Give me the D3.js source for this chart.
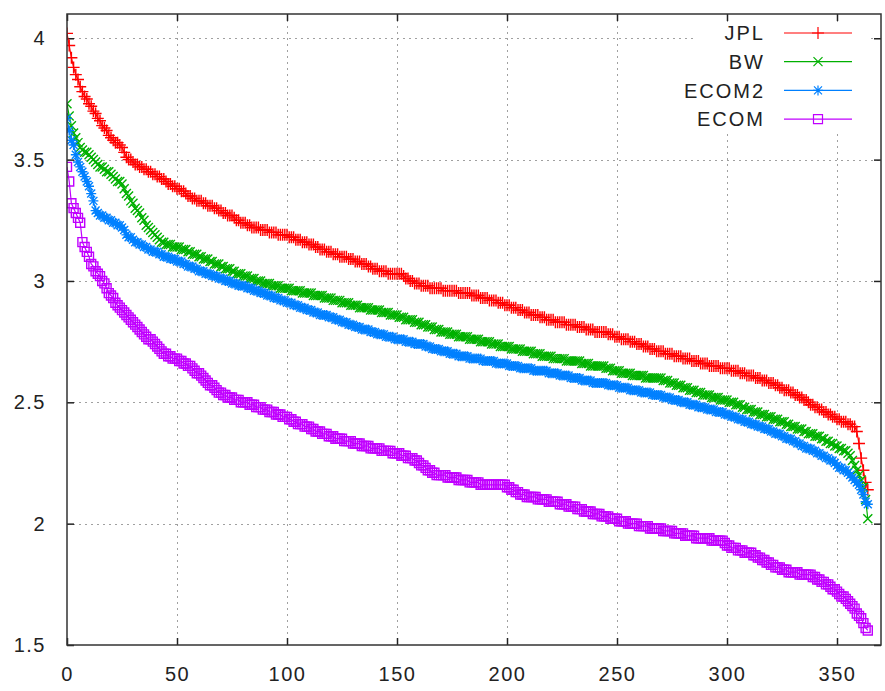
<!DOCTYPE html>
<html>
<head>
<meta charset="utf-8">
<script src="https://cdn.jsdelivr.net/npm/d3@7"></script>
<style>
  body { margin: 0; background: #fff; }
  text { font-family: "Liberation Sans", Arial, sans-serif; fill: #222; }
</style>
</head>
<body>
<svg id="chart" width="885" height="691"></svg>
<script>
// Tick values
const xTicks = [0, 50, 100, 150, 200, 250, 300, 350];
const yTicks = [1.5, 2, 2.5, 3, 3.5, 4];

// Series names, in drawing order
const seriesNames = ["JPL", "BW", "ECOM2", "ECOM"];

// Sorted daily values (365 per series)
const jpl = [
4.02,3.97,3.92,3.88,3.85,3.83,3.80,3.78,3.76,3.75,
3.73,3.72,3.70,3.69,3.67,3.66,3.64,3.63,3.62,3.60,
3.59,3.58,3.57,3.57,3.56,3.55,3.53,3.51,3.50,3.50,
3.49,3.48,3.48,3.47,3.47,3.46,3.46,3.45,3.45,3.44,
3.44,3.43,3.43,3.42,3.42,3.41,3.40,3.40,3.39,3.39,
3.38,3.38,3.37,3.37,3.36,3.35,3.35,3.34,3.34,3.33,
3.33,3.33,3.32,3.32,3.31,3.31,3.31,3.30,3.30,3.29,
3.29,3.28,3.28,3.27,3.27,3.27,3.26,3.25,3.25,3.24,
3.24,3.24,3.23,3.23,3.22,3.22,3.22,3.22,3.21,3.21,
3.21,3.21,3.20,3.20,3.20,3.20,3.19,3.19,3.19,3.19,
3.19,3.18,3.18,3.18,3.17,3.17,3.17,3.16,3.16,3.16,
3.15,3.15,3.15,3.14,3.14,3.13,3.13,3.13,3.12,3.12,
3.12,3.11,3.11,3.11,3.10,3.10,3.10,3.10,3.09,3.09,
3.09,3.08,3.08,3.08,3.07,3.07,3.07,3.06,3.06,3.05,
3.05,3.05,3.04,3.04,3.04,3.04,3.03,3.03,3.03,3.03,
3.03,3.03,3.03,3.02,3.01,3.01,3.00,3.00,2.99,2.99,
2.99,2.98,2.98,2.98,2.98,2.97,2.97,2.97,2.97,2.97,
2.97,2.96,2.96,2.96,2.96,2.96,2.96,2.96,2.95,2.95,
2.95,2.95,2.95,2.95,2.94,2.94,2.94,2.94,2.93,2.93,
2.93,2.93,2.92,2.92,2.92,2.92,2.91,2.91,2.91,2.90,
2.90,2.90,2.89,2.89,2.89,2.88,2.88,2.88,2.87,2.87,
2.87,2.86,2.86,2.86,2.86,2.85,2.85,2.85,2.84,2.84,
2.84,2.84,2.83,2.83,2.83,2.83,2.83,2.82,2.82,2.82,
2.82,2.82,2.81,2.81,2.81,2.81,2.80,2.80,2.80,2.80,
2.79,2.79,2.79,2.79,2.79,2.79,2.78,2.78,2.78,2.77,
2.77,2.77,2.76,2.76,2.76,2.76,2.75,2.75,2.75,2.74,
2.74,2.74,2.73,2.73,2.73,2.72,2.72,2.72,2.71,2.71,
2.71,2.71,2.70,2.70,2.70,2.70,2.69,2.69,2.69,2.69,
2.68,2.68,2.68,2.68,2.67,2.67,2.67,2.67,2.66,2.66,
2.66,2.66,2.65,2.65,2.65,2.65,2.65,2.64,2.64,2.64,
2.64,2.64,2.63,2.63,2.63,2.63,2.62,2.62,2.62,2.61,
2.61,2.61,2.61,2.60,2.60,2.60,2.59,2.59,2.59,2.58,
2.58,2.58,2.57,2.57,2.56,2.56,2.55,2.55,2.55,2.54,
2.54,2.53,2.53,2.52,2.52,2.51,2.51,2.50,2.49,2.49,
2.48,2.48,2.47,2.47,2.46,2.46,2.45,2.45,2.44,2.44,
2.43,2.43,2.42,2.42,2.42,2.41,2.41,2.40,2.40,2.38,
2.33,2.27,2.22,2.17,2.14
];

const bw = [
3.73,3.68,3.64,3.61,3.59,3.57,3.55,3.54,3.53,3.53,
3.52,3.51,3.50,3.49,3.48,3.47,3.47,3.46,3.45,3.45,
3.44,3.43,3.42,3.41,3.41,3.40,3.38,3.36,3.35,3.33,
3.32,3.30,3.29,3.28,3.26,3.25,3.23,3.22,3.21,3.20,
3.19,3.18,3.17,3.16,3.16,3.15,3.15,3.15,3.14,3.14,
3.14,3.14,3.13,3.13,3.13,3.12,3.12,3.11,3.11,3.11,
3.10,3.10,3.09,3.09,3.09,3.08,3.08,3.07,3.07,3.07,
3.06,3.06,3.05,3.05,3.05,3.04,3.04,3.03,3.03,3.03,
3.02,3.02,3.02,3.01,3.01,3.01,3.00,3.00,3.00,2.99,
2.99,2.99,2.99,2.98,2.98,2.98,2.98,2.97,2.97,2.97,
2.97,2.97,2.96,2.96,2.96,2.96,2.96,2.95,2.95,2.95,
2.95,2.95,2.94,2.94,2.94,2.94,2.94,2.93,2.93,2.93,
2.93,2.92,2.92,2.92,2.92,2.91,2.91,2.91,2.91,2.90,
2.90,2.90,2.90,2.89,2.89,2.89,2.89,2.89,2.88,2.88,
2.88,2.88,2.88,2.87,2.87,2.87,2.87,2.86,2.86,2.86,
2.86,2.85,2.85,2.85,2.84,2.84,2.84,2.84,2.83,2.83,
2.83,2.82,2.82,2.82,2.81,2.81,2.81,2.80,2.80,2.80,
2.79,2.79,2.79,2.79,2.78,2.78,2.78,2.78,2.77,2.77,
2.77,2.77,2.77,2.76,2.76,2.76,2.76,2.76,2.75,2.75,
2.75,2.75,2.75,2.74,2.74,2.74,2.74,2.73,2.73,2.73,
2.73,2.73,2.72,2.72,2.72,2.72,2.72,2.71,2.71,2.71,
2.71,2.71,2.70,2.70,2.70,2.70,2.69,2.69,2.69,2.69,
2.69,2.68,2.68,2.68,2.68,2.68,2.68,2.67,2.67,2.67,
2.67,2.67,2.67,2.67,2.66,2.66,2.66,2.66,2.65,2.65,
2.65,2.65,2.65,2.65,2.65,2.64,2.64,2.64,2.63,2.63,
2.63,2.63,2.62,2.62,2.62,2.62,2.62,2.61,2.61,2.61,
2.61,2.61,2.61,2.60,2.60,2.60,2.60,2.60,2.60,2.60,
2.60,2.59,2.59,2.59,2.58,2.58,2.58,2.57,2.57,2.57,
2.56,2.56,2.56,2.55,2.55,2.55,2.54,2.54,2.54,2.53,
2.53,2.53,2.53,2.52,2.52,2.52,2.52,2.51,2.51,2.51,
2.51,2.50,2.50,2.50,2.49,2.49,2.49,2.48,2.48,2.47,
2.47,2.47,2.46,2.46,2.46,2.45,2.45,2.45,2.44,2.44,
2.44,2.43,2.43,2.43,2.42,2.42,2.42,2.41,2.41,2.40,
2.40,2.40,2.39,2.39,2.39,2.38,2.38,2.37,2.37,2.37,
2.36,2.36,2.36,2.35,2.35,2.34,2.34,2.33,2.33,2.32,
2.32,2.31,2.31,2.30,2.30,2.29,2.28,2.26,2.24,2.22,
2.20,2.18,2.15,2.10,2.02
];

const ecom2 = [
3.67,3.62,3.58,3.56,3.52,3.49,3.47,3.45,3.43,3.41,
3.39,3.36,3.33,3.29,3.28,3.27,3.27,3.26,3.26,3.25,
3.25,3.24,3.24,3.23,3.23,3.22,3.21,3.19,3.18,3.18,
3.17,3.16,3.16,3.15,3.15,3.14,3.14,3.13,3.13,3.12,
3.12,3.12,3.11,3.11,3.10,3.10,3.10,3.09,3.09,3.09,
3.08,3.08,3.08,3.07,3.07,3.06,3.06,3.06,3.05,3.05,
3.04,3.04,3.04,3.03,3.03,3.03,3.02,3.02,3.02,3.01,
3.01,3.01,3.00,3.00,3.00,2.99,2.99,2.99,2.98,2.98,
2.98,2.98,2.97,2.97,2.97,2.96,2.96,2.96,2.95,2.95,
2.95,2.94,2.94,2.94,2.93,2.93,2.93,2.92,2.92,2.92,
2.91,2.91,2.91,2.90,2.90,2.90,2.89,2.89,2.89,2.88,
2.88,2.88,2.87,2.87,2.87,2.86,2.86,2.86,2.86,2.85,
2.85,2.85,2.84,2.84,2.84,2.83,2.83,2.83,2.82,2.82,
2.82,2.81,2.81,2.81,2.80,2.80,2.80,2.80,2.79,2.79,
2.79,2.78,2.78,2.78,2.78,2.77,2.77,2.77,2.77,2.76,
2.76,2.76,2.76,2.76,2.75,2.75,2.75,2.75,2.74,2.74,
2.74,2.74,2.74,2.73,2.73,2.73,2.72,2.72,2.72,2.72,
2.71,2.71,2.71,2.71,2.70,2.70,2.70,2.70,2.69,2.69,
2.69,2.69,2.69,2.68,2.68,2.68,2.68,2.68,2.68,2.67,
2.67,2.67,2.67,2.67,2.67,2.66,2.66,2.66,2.66,2.66,
2.66,2.65,2.65,2.65,2.65,2.65,2.64,2.64,2.64,2.64,
2.64,2.64,2.63,2.63,2.63,2.63,2.63,2.63,2.63,2.62,
2.62,2.62,2.62,2.62,2.61,2.61,2.61,2.61,2.61,2.60,
2.60,2.60,2.60,2.60,2.59,2.59,2.59,2.59,2.59,2.58,
2.58,2.58,2.58,2.58,2.58,2.58,2.57,2.57,2.57,2.57,
2.57,2.56,2.56,2.56,2.56,2.56,2.55,2.55,2.55,2.55,
2.55,2.54,2.54,2.54,2.54,2.54,2.53,2.53,2.53,2.53,
2.53,2.52,2.52,2.52,2.52,2.51,2.51,2.51,2.51,2.50,
2.50,2.50,2.50,2.49,2.49,2.49,2.49,2.48,2.48,2.48,
2.48,2.47,2.47,2.47,2.47,2.46,2.46,2.46,2.46,2.45,
2.45,2.45,2.44,2.44,2.44,2.43,2.43,2.43,2.42,2.42,
2.42,2.41,2.41,2.41,2.40,2.40,2.40,2.39,2.39,2.39,
2.38,2.38,2.37,2.37,2.37,2.36,2.36,2.35,2.35,2.35,
2.34,2.34,2.33,2.33,2.32,2.32,2.31,2.31,2.31,2.30,
2.30,2.29,2.29,2.28,2.28,2.27,2.27,2.26,2.26,2.25,
2.24,2.23,2.23,2.22,2.22,2.21,2.20,2.19,2.18,2.17,
2.16,2.14,2.12,2.09,2.08
];

const ecom = [
3.47,3.41,3.32,3.30,3.28,3.26,3.24,3.16,3.14,3.12,
3.10,3.07,3.06,3.04,3.03,3.02,3.00,2.99,2.97,2.95,
2.94,2.93,2.91,2.90,2.89,2.88,2.87,2.86,2.85,2.84,
2.83,2.82,2.81,2.80,2.79,2.78,2.77,2.76,2.76,2.75,
2.74,2.73,2.72,2.71,2.70,2.70,2.69,2.69,2.68,2.68,
2.68,2.67,2.67,2.66,2.66,2.65,2.65,2.64,2.63,2.62,
2.62,2.61,2.60,2.59,2.58,2.57,2.57,2.56,2.55,2.54,
2.54,2.53,2.53,2.52,2.52,2.52,2.51,2.51,2.51,2.50,
2.50,2.50,2.50,2.49,2.49,2.49,2.48,2.48,2.48,2.47,
2.47,2.47,2.46,2.46,2.46,2.45,2.45,2.45,2.44,2.44,
2.44,2.43,2.43,2.42,2.42,2.41,2.41,2.41,2.40,2.40,
2.40,2.39,2.39,2.38,2.38,2.38,2.37,2.37,2.37,2.36,
2.36,2.36,2.35,2.35,2.35,2.35,2.34,2.34,2.34,2.34,
2.33,2.33,2.33,2.33,2.32,2.32,2.32,2.32,2.31,2.31,
2.31,2.31,2.31,2.30,2.30,2.30,2.30,2.30,2.29,2.29,
2.29,2.29,2.28,2.28,2.28,2.27,2.27,2.27,2.26,2.26,
2.25,2.24,2.24,2.23,2.22,2.22,2.21,2.21,2.20,2.20,
2.20,2.20,2.20,2.19,2.19,2.19,2.19,2.19,2.18,2.18,
2.18,2.18,2.18,2.17,2.17,2.17,2.17,2.17,2.16,2.16,
2.16,2.16,2.16,2.16,2.16,2.16,2.16,2.16,2.16,2.16,
2.15,2.15,2.14,2.14,2.13,2.13,2.12,2.12,2.12,2.11,
2.11,2.11,2.11,2.11,2.10,2.10,2.10,2.10,2.10,2.09,
2.09,2.09,2.09,2.09,2.08,2.08,2.08,2.08,2.07,2.07,
2.07,2.07,2.06,2.06,2.06,2.05,2.05,2.05,2.05,2.04,
2.04,2.04,2.04,2.03,2.03,2.03,2.03,2.02,2.02,2.02,
2.02,2.01,2.01,2.01,2.01,2.00,2.00,2.00,2.00,2.00,
1.99,1.99,1.99,1.99,1.99,1.98,1.98,1.98,1.98,1.98,
1.98,1.97,1.97,1.97,1.97,1.97,1.96,1.96,1.96,1.96,
1.96,1.95,1.95,1.95,1.95,1.95,1.94,1.94,1.94,1.94,
1.94,1.94,1.94,1.93,1.93,1.93,1.93,1.93,1.93,1.92,
1.91,1.91,1.90,1.90,1.90,1.89,1.89,1.89,1.88,1.88,
1.88,1.88,1.87,1.87,1.86,1.86,1.85,1.85,1.84,1.84,
1.83,1.83,1.82,1.82,1.82,1.81,1.81,1.81,1.80,1.80,
1.80,1.80,1.80,1.79,1.79,1.79,1.79,1.79,1.79,1.78,
1.78,1.77,1.77,1.76,1.76,1.75,1.75,1.74,1.73,1.73,
1.72,1.71,1.70,1.70,1.69,1.68,1.67,1.66,1.65,1.63,
1.62,1.61,1.59,1.57,1.56
];

const seriesValues = [jpl, bw, ecom2, ecom];
const seriesColors = ["#ff0000", "#00b000", "#0080ff", "#c000ff"];
const seriesSymbols = ["plus", "cross", "star", "square"];

// Layout
const plot = { left: 67, right: 881, top: 14, bottom: 645 };

const svg = d3.select("#chart");

const x = d3.scaleLinear().domain([0, 370]).range([plot.left, plot.right]);
const y = d3.scaleLinear().domain([1.5, 4.1]).range([plot.bottom, plot.top]);

// Point-symbol path strings (gnuplot style point types)
function symbolPath(kind) {
  if (kind === "plus") { const s = 6; return `M${-s},0H${s}M0,${-s}V${s}`; }
  if (kind === "cross") { const s = 4.5; return `M${-s},${-s}L${s},${s}M${-s},${s}L${s},${-s}`; }
  if (kind === "star") { const s = 5, d = 4; return `M${-s},0H${s}M0,${-s}V${s}M${-d},${-d}L${d},${d}M${-d},${d}L${d},${-d}`; }
  const h = 4.5; return `M${-h},${-h}H${h}V${h}H${-h}Z`;
}

// Grid
const grid = svg.append("g").attr("stroke", "#a0a0a0").attr("stroke-width", 1)
  .attr("stroke-dasharray", "2,4");
grid.selectAll("line.gx").data(xTicks.filter(d => d > 0)).join("line")
  .attr("x1", d => Math.round(x(d)) + 0.5).attr("x2", d => Math.round(x(d)) + 0.5)
  .attr("y1", plot.top).attr("y2", plot.bottom);
grid.selectAll("line.gy").data(yTicks.filter(d => d > 1.5)).join("line")
  .attr("x1", plot.left).attr("x2", plot.right)
  .attr("y1", d => Math.round(y(d)) + 0.5).attr("y2", d => Math.round(y(d)) + 0.5);

// Axes with inward ticks on all four sides
const tickLen = 7;
const xAxisB = d3.axisBottom(x).tickValues(xTicks).tickSize(-tickLen).tickPadding(tickLen + 15).tickFormat(d3.format("d"));
const xAxisT = d3.axisTop(x).tickValues(xTicks).tickSize(-tickLen).tickFormat("");
const yAxisL = d3.axisLeft(y).tickValues(yTicks).tickSize(-tickLen).tickPadding(tickLen + 14).tickFormat(d => String(d));
const yAxisR = d3.axisRight(y).tickValues(yTicks).tickSize(-tickLen).tickFormat("");

function styleAxis(g) {
  g.select(".domain").remove();
  g.selectAll(".tick line").attr("stroke", "#222").attr("stroke-width", 1.5);
  g.selectAll(".tick text").attr("font-size", 20).attr("fill", "#333")
    .attr("letter-spacing", "1.5px")
    .attr("font-family", "'Liberation Sans', Arial, sans-serif");
}
svg.append("g").attr("transform", `translate(0,${plot.bottom})`).call(xAxisB).call(styleAxis);
svg.append("g").attr("transform", `translate(0,${plot.top})`).call(xAxisT).call(styleAxis);
svg.append("g").attr("transform", `translate(${plot.left},0)`).call(yAxisL).call(styleAxis);
svg.append("g").attr("transform", `translate(${plot.right},0)`).call(yAxisR).call(styleAxis);

// Series: connecting line plus a symbol at every point
const line = d3.line().x((d, i) => x(i)).y(d => y(d));
const clipId = "plotclip";
svg.append("clipPath").attr("id", clipId).append("rect")
  .attr("x", plot.left).attr("y", plot.top)
  .attr("width", plot.right - plot.left).attr("height", plot.bottom - plot.top);

seriesValues.forEach((vals, k) => {
  const g = svg.append("g").attr("clip-path", `url(#${clipId})`);
  g.append("path").datum(vals).attr("d", line)
    .attr("fill", "none").attr("stroke", seriesColors[k]).attr("stroke-width", 1.2);
  g.selectAll("path.pt").data(vals).join("path").attr("class", "pt")
    .attr("transform", (d, i) => `translate(${x(i)},${y(d)})`)
    .attr("d", symbolPath(seriesSymbols[k]))
    .attr("fill", "none").attr("stroke", seriesColors[k]).attr("stroke-width", 1.4);
});

// Legend (opaque box over the grid)
const legendX = 697, legendW = 170, legendTop = 22, legendRowH = 28.7, legendY0 = 33;
svg.append("rect").attr("x", legendX).attr("y", legendTop)
  .attr("width", legendW).attr("height", 111).attr("fill", "#fff");
const leg = svg.append("g");
seriesNames.forEach((name, k) => {
  const cy = legendY0 + k * legendRowH;
  leg.append("text").attr("x", 765).attr("y", cy).attr("dy", "0.36em")
    .attr("text-anchor", "end").attr("font-size", 20).attr("letter-spacing", "2px")
    .attr("fill", "#222").text(name);
  leg.append("line").attr("x1", 784).attr("x2", 852).attr("y1", cy).attr("y2", cy)
    .attr("stroke", seriesColors[k]).attr("stroke-width", 1.2);
  leg.append("path").attr("transform", `translate(818,${cy})`)
    .attr("d", symbolPath(seriesSymbols[k]))
    .attr("fill", "none").attr("stroke", seriesColors[k]).attr("stroke-width", 1.2);
});

// Plot frame
svg.append("rect").attr("x", plot.left).attr("y", plot.top)
  .attr("width", plot.right - plot.left).attr("height", plot.bottom - plot.top)
  .attr("fill", "none").attr("stroke", "#333").attr("stroke-width", 1.5);
</script>
</body>
</html>
